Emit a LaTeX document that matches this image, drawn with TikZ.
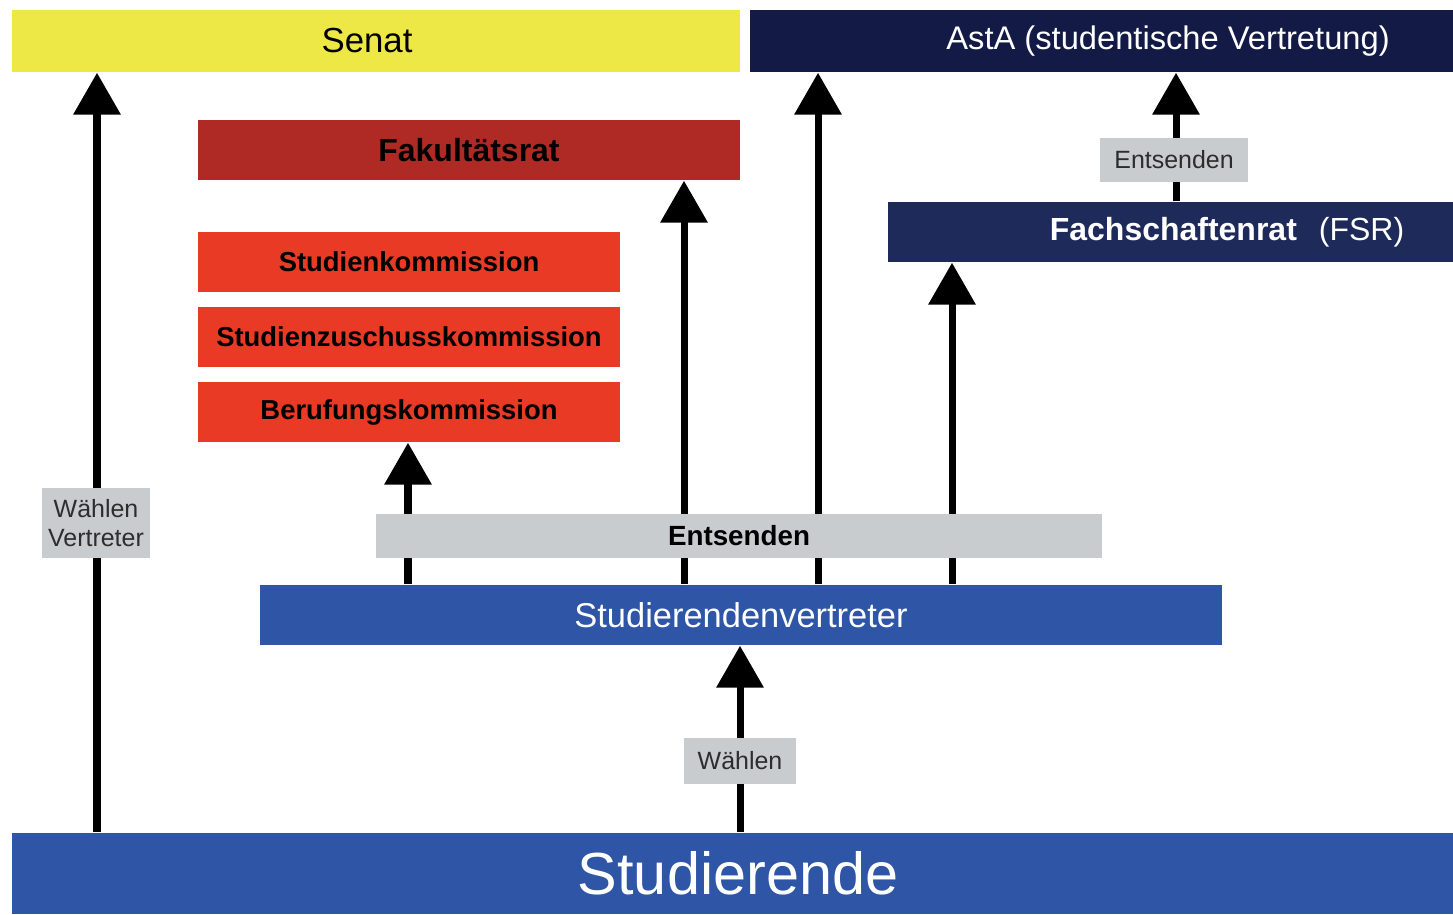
\documentclass[tikz,border=0pt]{standalone}
\usepackage{fontspec}
\setmainfont{Liberation Sans}
\usetikzlibrary{arrows.meta}
\definecolor{senatgelb}{RGB}{237,232,69}
\definecolor{astablau}{RGB}{18,26,69}
\definecolor{fsrblau}{RGB}{30,42,90}
\definecolor{fakrot}{RGB}{176,42,37}
\definecolor{komrot}{RGB}{232,58,37}
\definecolor{stvblau}{RGB}{46,85,166}
\definecolor{labelgrau}{RGB}{200,204,207}
\definecolor{labelschrift}{RGB}{45,45,45}
\newcommand{\fs}[1]{\fontsize{#1}{1.15\dimexpr#1\relax}\selectfont}
\tikzset{
	gremium/.style={rectangle, inner sep=0pt, minimum height=0.6cm},
	etikett/.style={rectangle, fill=labelgrau, text=labelschrift, inner sep=0pt, align=center},
	pfeil/.style={line width=2pt, -{Triangle[width=0.46cm,length=0.42cm]}},
}

\begin{document}
\begin{tikzpicture}
		%%%%% START %%%%%
		
		\clip (0, 0) rectangle (14.53, -9.14);
		\fill[white] (0, 0) rectangle (14.53, -9.14);
		
		% obere Ebene
		\node[gremium, fill=senatgelb, minimum width=7.28cm, minimum height=0.62cm] (senat) at (3.76, -0.41) {\fs{9.9pt}Senat\hspace*{0.18cm}};
		\node[gremium, fill=astablau, text=white, minimum width=8.36cm, minimum height=0.62cm] (asta) at (11.68, -0.41) {\fs{9.3pt}AstA (studentische Vertretung)};
		
		% Fakultaet
		\node[gremium, fill=fakrot, text=black, minimum width=5.42cm] (fak) at (4.69, -1.50) {\fs{9.1pt}\textbf{Fakultätsrat}};
		\node[gremium, fill=komrot, minimum width=4.22cm] (stk) at (4.09, -2.62) {\fs{7.8pt}\textbf{Studienkommission}};
		\node[gremium, fill=komrot, minimum width=4.22cm] (szk) at (4.09, -3.37) {\fs{7.8pt}\textbf{Studienzuschusskommission}};
		\node[gremium, fill=komrot, minimum width=4.22cm] (beruf) at (4.09, -4.12) {\fs{7.8pt}\textbf{Berufungskommission}};
		
		% Fachschaft
		\node[gremium, fill=fsrblau, text=white, minimum width=6.78cm] (fsr) at (12.27, -2.32) {\fs{9.1pt}\textbf{Fachschaftenrat}\hspace{0.22cm}(FSR)};
		
		% untere Ebenen
		\node[gremium, fill=stvblau, text=white, minimum width=9.62cm] (stv) at (7.41, -6.15) {\fs{9.8pt}Studierendenvertreter};
		\node[gremium, fill=stvblau, text=white, minimum width=14.52cm, minimum height=0.81cm] (std) at (7.38, -8.735) {\fs{16.9pt}Studierende};
		
		% Pfeile
		\draw[pfeil] (0.97, 0 |- std.north) -- (0.97, 0 |- senat.south);
		\draw[pfeil] (4.08, 0 |- stv.north) -- (4.08, 0 |- beruf.south);
		\draw[pfeil] (6.84, 0 |- stv.north) -- (6.84, 0 |- fak.south);
		\draw[pfeil] (8.18, 0 |- stv.north) -- (8.18, 0 |- asta.south);
		\draw[pfeil] (9.52, 0 |- stv.north) -- (9.52, 0 |- fsr.south);
		\draw[pfeil] (11.76, 0 |- fsr.north) -- (11.76, 0 |- asta.south);
		\draw[pfeil] (7.40, 0 |- std.north) -- (7.40, 0 |- stv.south);
		
		% Beschriftungen
		\node[etikett, minimum width=7.26cm, minimum height=0.44cm, text=black] (ents) at (7.39, -5.36) {\fs{7.9pt}\textbf{Entsenden}};
		\node[etikett, minimum width=1.48cm, minimum height=0.44cm] (entsfsr) at (11.74, -1.60) {\fs{7.1pt}Entsenden};
		\node[etikett, minimum width=1.08cm, minimum height=0.70cm, font={\fs{7.1pt}}] (wv) at (0.96, -5.23) {Wählen\\Vertreter};
		\node[etikett, minimum width=1.12cm, minimum height=0.46cm] (wl) at (7.40, -7.61) {\fs{7.1pt}Wählen};
		
		%%%%% END %%%%%
	\end{tikzpicture}
\end{document}
